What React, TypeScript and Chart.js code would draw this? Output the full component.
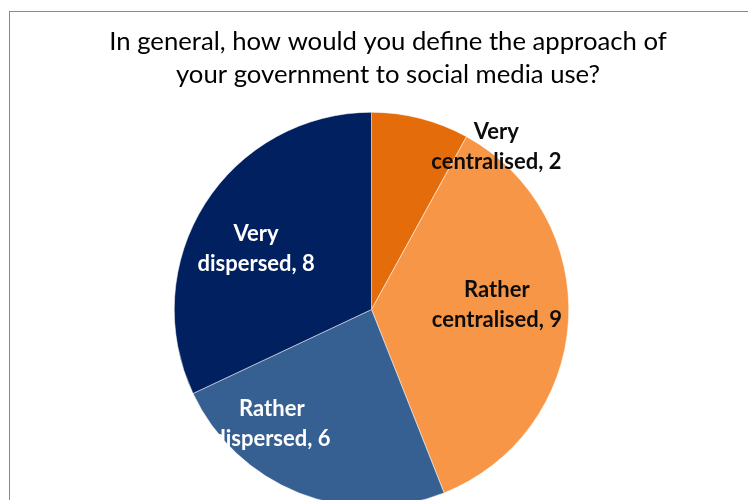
import React, { useEffect, useRef } from "react";
import { Chart, registerables } from "chart.js";

Chart.register(...registerables);

const categories = ["Very centralised", "Rather centralised", "Rather dispersed", "Very dispersed"];
const counts = [2, 9, 6, 8];
const titleLines = [
  "In general, how would you define the approach of",
  "your government to social media use?",
];

const sliceColors = ["#E46C0A", "#F79646", "#376092", "#002060"];
const labelColors = ["#0d0d0d", "#0d0d0d", "#ffffff", "#ffffff"];
// label placement: angle (deg clockwise from top) and radius fraction
const labelPlacement = [
  { angle: 37.5, r: 1.04 },
  { angle: 88, r: 0.636 },
  { angle: 221, r: 0.77 },
  { angle: 297.6, r: 0.66 },
];

const FONT = "Lato, 'Open Sans', sans-serif";

const textPlugin = {
  id: "customText",
  afterDraw(chart: any) {
    const ctx = chart.ctx as CanvasRenderingContext2D;
    ctx.save();
    // title
    ctx.fillStyle = "#000000";
    ctx.font = `25.7px ${FONT}`;
    ctx.textAlign = "center";
    ctx.textBaseline = "alphabetic";
    ctx.fillText(titleLines[0], 388, 50);
    ctx.fillText(titleLines[1], 388, 83);

    // slice labels
    const meta = chart.getDatasetMeta(0);
    ctx.font = `bold 22px ${FONT}`;
    ctx.textBaseline = "middle";
    meta.data.forEach((arc: any, i: number) => {
      const p = arc.getProps(["x", "y", "outerRadius"], true);
      const pl = labelPlacement[i];
      const a = (pl.angle * Math.PI) / 180;
      const cx = p.x + Math.sin(a) * p.outerRadius * pl.r;
      const cy = p.y - Math.cos(a) * p.outerRadius * pl.r;
      const name = categories[i];
      const sp = name.indexOf(" ");
      const l1 = name.slice(0, sp);
      const l2 = name.slice(sp + 1) + ", " + counts[i];
      ctx.fillStyle = labelColors[i];
      ctx.fillText(l1, cx, cy - 15);
      ctx.fillText(l2, cx, cy + 15);
    });
    ctx.restore();
  },
};

export default function App() {
  const ref = useRef<HTMLCanvasElement | null>(null);
  useEffect(() => {
    if (!ref.current) return;
    const chart = new Chart(ref.current, {
      type: "pie",
      data: {
        labels: categories,
        datasets: [
          {
            data: counts,
            backgroundColor: sliceColors,
            borderColor: "#ffffff",
            borderWidth: 0.5,
          },
        ],
      },
      options: {
        responsive: false,
        animation: false,
        layout: { padding: { top: 112, bottom: 13, left: 174, right: 179 } },
        plugins: {
          legend: { display: false },
          title: { display: false },
          tooltip: { enabled: false },
        },
      },
      plugins: [textPlugin],
    });
    return () => chart.destroy();
  }, []);

  return (
    <div style={{ position: "absolute", left: 0, top: 0, width: 748, height: 500, overflow: "hidden", background: "#fff" }}>
      <canvas ref={ref} width={748} height={520} style={{ position: "absolute", left: 0, top: 0, width: 748, height: 520 }} />
      <div
        style={{
          position: "absolute",
          left: 9,
          top: 11,
          width: 760,
          height: 520,
          borderLeft: "1.5px solid #8a8a8a",
          borderTop: "1.5px solid #8a8a8a",
          pointerEvents: "none",
        }}
      />
    </div>
  );
}
